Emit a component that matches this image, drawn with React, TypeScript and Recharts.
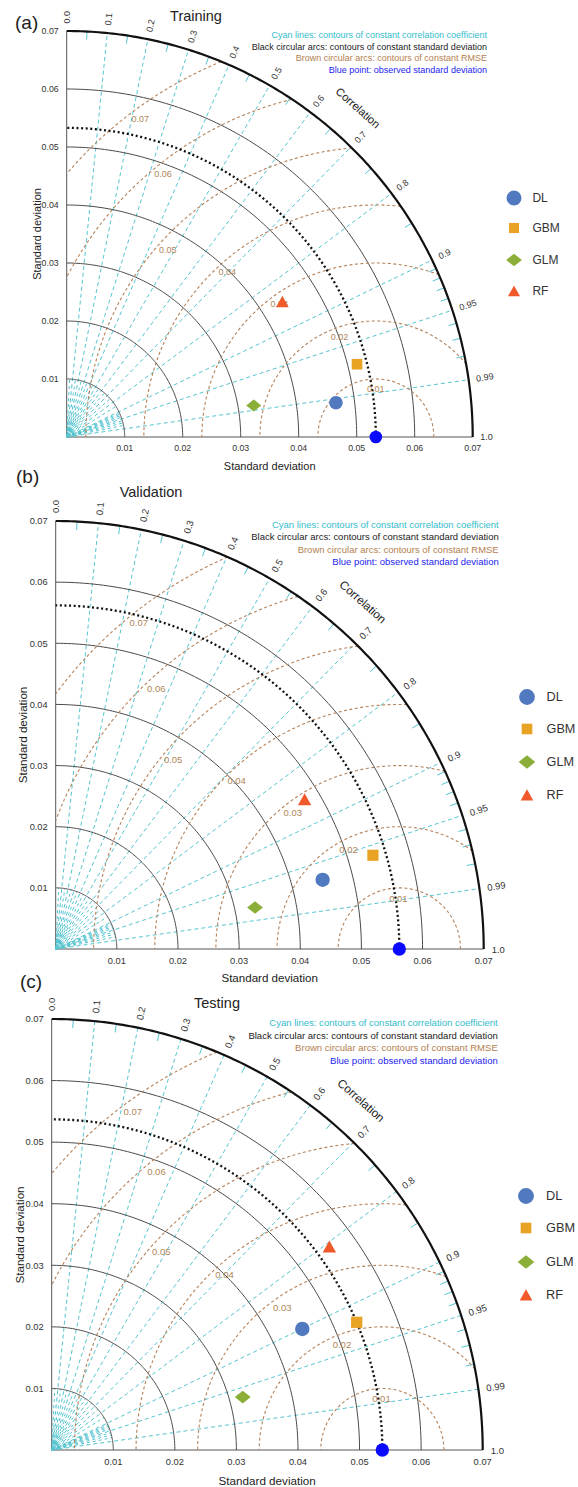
import React from 'react';
import { ScatterChart, Scatter, XAxis, YAxis, ReferenceDot } from 'recharts';

// ---------- data ----------
const SD_MAX = 0.07;
const sdTicks = [0.01, 0.02, 0.03, 0.04, 0.05, 0.06, 0.07];
const sdArcLevels = [0.01, 0.02, 0.03, 0.04, 0.05, 0.06];
const corrLines = [0.1, 0.2, 0.3, 0.4, 0.5, 0.6, 0.7, 0.8, 0.9, 0.95, 0.99];
const corrLabelValues = [0, 0.1, 0.2, 0.3, 0.4, 0.5, 0.6, 0.7, 0.8, 0.9, 0.95, 0.99, 1];
const corrLabelTexts = ['0.0', '0.1', '0.2', '0.3', '0.4', '0.5', '0.6', '0.7', '0.8', '0.9', '0.95', '0.99', '1.0'];
const corrMinor = [0.05, 0.15, 0.25, 0.35, 0.45, 0.55, 0.65, 0.75, 0.85, 0.91, 0.92, 0.93, 0.94, 0.96, 0.97, 0.98];
const rmseLevels = [0.01, 0.02, 0.03, 0.04, 0.05, 0.06, 0.07];
const rmseLabelTexts = ['0.01', '0.02', '0.03', '0.04', '0.05', '0.06', '0.07'];

const models = ['DL', 'GBM', 'GLM', 'RF'];
const modelColors = ['#5079bf', '#e8a224', '#8aae38', '#f0592a'];
const modelShapes = ['circle', 'square', 'diamond', 'triangle'];

const panelTitles = ['Training', 'Validation', 'Testing'];
const panelLetters = ['(a)', '(b)', '(c)'];
const observedSD = [0.0533, 0.0562, 0.0537];

const trainingSD = [0.0468, 0.0516, 0.0327, 0.0439];
const trainingCorr = [0.992, 0.970, 0.986, 0.847];
const validationSD = [0.0451, 0.0541, 0.0333, 0.0475];
const validationCorr = [0.968, 0.959, 0.979, 0.857];
const testingSD = [0.0452, 0.0537, 0.0322, 0.0559];
const testingCorr = [0.9005, 0.9224, 0.9637, 0.8068];

const modelSD = [trainingSD, validationSD, testingSD];
const modelCorr = [trainingCorr, validationCorr, testingCorr];

const annotationLines = [
  'Cyan lines: contours of constant correlation coefficient',
  'Black circular arcs: contours of constant standard deviation',
  'Brown circular arcs: contours of constant RMSE',
  'Blue point: observed standard deviation',
];

// ---------- layout / style ----------
const annotationColors = ['#35bccb', '#222222', '#b3804f', '#1c1cf0'];
const CYAN = '#56c5d0';
const BROWN = '#b5825a';
const FONT = '"Liberation Sans", Arial, Helvetica, sans-serif';

const layouts = [
  { ox: 66.7, oy: 437, R: 406, letterX: 15, letterY: 22, titleX: 196, titleY: 15.5, rmseAngles: [90, 110, 126, 132, 138, 129, 126.5] },
  { ox: 55.7, oy: 948.7, R: 428, letterX: 16, letterY: 476, titleX: 151, titleY: 491.7, rmseAngles: [91, 117, 128, 134, 140, 133, 128.6] },
  { ox: 51.7, oy: 1450, R: 431, letterX: 20, letterY: 981, titleX: 217, titleY: 1003, rmseAngles: [91, 111, 125, 132, 138, 129, 126.4] },
];

const clamp = (v: number) => Math.min(SD_MAX, Math.max(0, v));
const rad = (d: number) => (d * Math.PI) / 180;

function arc(cx: number, r: number, a0: number, a1: number, n = 120) {
  const pts: { x: number; y: number }[] = [];
  for (let i = 0; i <= n; i++) {
    const a = a0 + ((a1 - a0) * i) / n;
    pts.push({ x: clamp(cx + r * Math.cos(a)), y: clamp(r * Math.sin(a)) });
  }
  return pts;
}

function ray(c: number, r0: number, r1: number) {
  const s = Math.sqrt(1 - c * c);
  return [
    { x: clamp(r0 * c), y: clamp(r0 * s) },
    { x: clamp(r1 * c), y: clamp(r1 * s) },
  ];
}

const NoDot = () => <g />;

function MarkerShape({ kind, cx, cy, s, color }: any) {
  if (kind === 'circle') return <circle cx={cx} cy={cy} r={6.8 * s} fill={color} />;
  if (kind === 'square')
    return <rect x={cx - 5.3 * s} y={cy - 5.3 * s} width={10.6 * s} height={10.6 * s} fill={color} />;
  if (kind === 'diamond')
    return (
      <polygon
        points={`${cx - 7.5 * s},${cy} ${cx},${cy - 6 * s} ${cx + 7.5 * s},${cy} ${cx},${cy + 6 * s}`}
        fill={color}
      />
    );
  return (
    <polygon
      points={`${cx - 6.3 * s},${cy + 5.5 * s} ${cx + 6.3 * s},${cy + 5.5 * s} ${cx},${cy - 5.8 * s}`}
      fill={color}
    />
  );
}

function Txt({ x, y, size, color = '#222', anchor = 'start', rotate = 0, children }: any) {
  const tx = anchor === 'middle' ? '-50%' : anchor === 'end' ? '-100%' : '0';
  return (
    <div
      style={{
        position: 'absolute',
        left: x,
        top: y,
        transform: `translate(${tx}, -50%)${rotate ? ` rotate(${rotate}deg)` : ''}`,
        fontSize: size,
        lineHeight: 1,
        color,
        whiteSpace: 'nowrap',
      }}
    >
      {children}
    </div>
  );
}

function Panel({ idx }: { idx: number }) {
  const L = layouts[idx];
  const k = L.R / 406;
  const obs = observedSD[idx];
  const sds = modelSD[idx];
  const cors = modelCorr[idx];
  const mt = 30;
  const xh = 35;
  const yw = 40;
  const H = mt + L.R + xh;
  const top = L.oy - L.R - mt;

  type S = { pts: { x: number; y: number }[]; stroke: string; width: number; dash?: string };
  const series: S[] = [];
  corrLines.forEach((c) => series.push({ pts: ray(c, 0, SD_MAX), stroke: CYAN, width: 1, dash: '4 3' }));
  corrMinor.forEach((c) => series.push({ pts: ray(c, 0, 0.01), stroke: CYAN, width: 1, dash: '3 3' }));
  corrMinor.forEach((c) => series.push({ pts: ray(c, 0.0686, SD_MAX), stroke: CYAN, width: 1 }));
  [0.0004, 0.0008, 0.0012].forEach((r) =>
    series.push({ pts: arc(0, r, 0, Math.PI / 2, 12), stroke: CYAN, width: 1.2 })
  );
  sdArcLevels.forEach((s) => series.push({ pts: arc(0, s, 0, Math.PI / 2), stroke: '#4a4a4a', width: 1 }));
  rmseLevels.forEach((d) => {
    const lim = (SD_MAX * SD_MAX - obs * obs - d * d) / (2 * obs * d);
    const pMin = lim >= 1 ? 0 : Math.acos(Math.max(-1, lim));
    const pMax = d > obs ? Math.acos(-obs / d) : Math.PI;
    series.push({ pts: arc(obs, d, pMin, pMax), stroke: BROWN, width: 1.1, dash: '3 2.5' });
  });
  series.push({ pts: arc(0, SD_MAX, 0, Math.PI / 2, 180), stroke: '#111', width: 2.2 });
  series.push({ pts: arc(0, obs, 0, Math.PI / 2, 150), stroke: '#111', width: 2.3, dash: '2 2.6' });

  const legendY = [0.589, 0.514, 0.437, 0.36];

  return (
    <>
      <div style={{ position: 'absolute', left: 0, top, width: 578, height: H }}>
        <ScatterChart
          width={578}
          height={H}
          margin={{ top: mt, right: 578 - L.ox - L.R, bottom: 0, left: L.ox - yw }}
        >
          <XAxis
            type="number"
            dataKey="x"
            domain={[0, SD_MAX]}
            ticks={sdTicks}
            interval={0}
            tickLine={false}
            axisLine={{ stroke: '#555' }}
            height={xh}
            tick={{ fontSize: 8.8 * k, fill: '#333' }}
            tickFormatter={(v: number) => v.toFixed(2)}
          />
          <YAxis
            type="number"
            dataKey="y"
            domain={[0, SD_MAX]}
            ticks={sdTicks}
            interval={0}
            tickLine={false}
            axisLine={{ stroke: '#555' }}
            width={yw}
            tick={{ fontSize: 8.8 * k, fill: '#333' }}
            tickFormatter={(v: number) => v.toFixed(2)}
          />
          {series.map((s, i) => (
            <Scatter
              key={'s' + i}
              data={s.pts}
              fill="none"
              line={{ stroke: s.stroke, strokeWidth: s.width, strokeDasharray: s.dash }}
              shape={NoDot}
              isAnimationActive={false}
              legendType="none"
            />
          ))}
          {rmseLevels.map((d, i) => {
            const a = rad(L.rmseAngles[i]);
            const rr = d - 0.0017;
            return (
              <ReferenceDot
                key={'rl' + i}
                x={obs + rr * Math.cos(a)}
                y={rr * Math.sin(a)}
                ifOverflow="visible"
                shape={(p: any) => (
                  <text
                    x={p.cx}
                    y={p.cy}
                    textAnchor="middle"
                    dominantBaseline="central"
                    fontSize={9 * k}
                    fill="#b08658"
                  >
                    {rmseLabelTexts[i]}
                  </text>
                )}
              />
            );
          })}
          {corrLabelValues.map((c, i) => {
            const th = Math.acos(c);
            const rr = 0.0713;
            const deg = (th * 180) / Math.PI;
            return (
              <ReferenceDot
                key={'cl' + i}
                x={rr * c}
                y={rr * Math.sin(th)}
                ifOverflow="visible"
                shape={(p: any) => (
                  <text
                    x={p.cx}
                    y={p.cy}
                    textAnchor="start"
                    dominantBaseline="central"
                    fontSize={9 * k}
                    fill="#333"
                    transform={`rotate(${-deg} ${p.cx} ${p.cy})`}
                  >
                    {corrLabelTexts[i]}
                  </text>
                )}
              />
            );
          })}
          <ReferenceDot
            x={0.0758 * Math.cos(rad(48.5))}
            y={0.0758 * Math.sin(rad(48.5))}
            ifOverflow="visible"
            shape={(p: any) => (
              <text
                x={p.cx}
                y={p.cy}
                textAnchor="middle"
                dominantBaseline="central"
                fontSize={11.2 * k}
                fill="#222"
                transform={`rotate(41.5 ${p.cx} ${p.cy})`}
              >
                Correlation
              </text>
            )}
          />
          <Scatter
            data={[{ x: obs, y: 0 }]}
            fill="#0a0aff"
            shape={(p: any) => <circle cx={p.cx} cy={p.cy} r={6.3 * k} fill="#0a0aff" />}
            isAnimationActive={false}
            legendType="none"
          />
          {models.map((m, i) => (
            <Scatter
              key={m}
              name={m}
              data={[{ x: sds[i] * cors[i], y: sds[i] * Math.sqrt(1 - cors[i] * cors[i]) }]}
              fill={modelColors[i]}
              shape={(p: any) => (
                <MarkerShape kind={modelShapes[i]} cx={p.cx} cy={p.cy} s={k} color={modelColors[i]} />
              )}
              isAnimationActive={false}
            />
          ))}
        </ScatterChart>
      </div>

      <Txt x={L.letterX} y={L.letterY} size={19}>
        {panelLetters[idx]}
      </Txt>
      <Txt x={L.titleX} y={L.titleY} size={14.5} anchor="middle">
        {panelTitles[idx]}
      </Txt>
      {annotationLines.map((t, i) => (
        <Txt
          key={t}
          x={L.ox + 1.035 * L.R}
          y={L.oy - 0.99 * L.R + i * 0.0288 * L.R}
          size={9 * k}
          anchor="end"
          color={annotationColors[i]}
        >
          {t}
        </Txt>
      ))}
      <Txt x={L.ox + 0.5 * L.R} y={L.oy + 0.071 * L.R} size={11 * k} anchor="middle" color="#222">
        Standard deviation
      </Txt>
      <Txt x={L.ox - 0.073 * L.R} y={L.oy - 0.5 * L.R} size={11 * k} anchor="middle" rotate={-90} color="#222">
        Standard deviation
      </Txt>
      {models.map((m, i) => {
        const cy = L.oy - legendY[i] * L.R;
        const cx = L.ox + 1.101 * L.R;
        return (
          <React.Fragment key={'lg' + m}>
            <svg
              width={24}
              height={24}
              style={{ position: 'absolute', left: cx - 12, top: cy - 12, overflow: 'visible' }}
            >
              <MarkerShape kind={modelShapes[i]} cx={12} cy={12} s={k * (i === 0 ? 1.1 : i === 2 ? 1.05 : 0.95)} color={modelColors[i]} />
            </svg>
            <Txt x={L.ox + 1.147 * L.R} y={cy} size={12 * k} color="#333">
              {m}
            </Txt>
          </React.Fragment>
        );
      })}
    </>
  );
}

export default function App() {
  return (
    <div
      style={{
        position: 'absolute',
        left: 0,
        top: 0,
        width: 578,
        height: 1487,
        overflow: 'hidden',
        background: '#fff',
        fontFamily: FONT,
      }}
    >
      <Panel idx={0} />
      <Panel idx={1} />
      <Panel idx={2} />
    </div>
  );
}
